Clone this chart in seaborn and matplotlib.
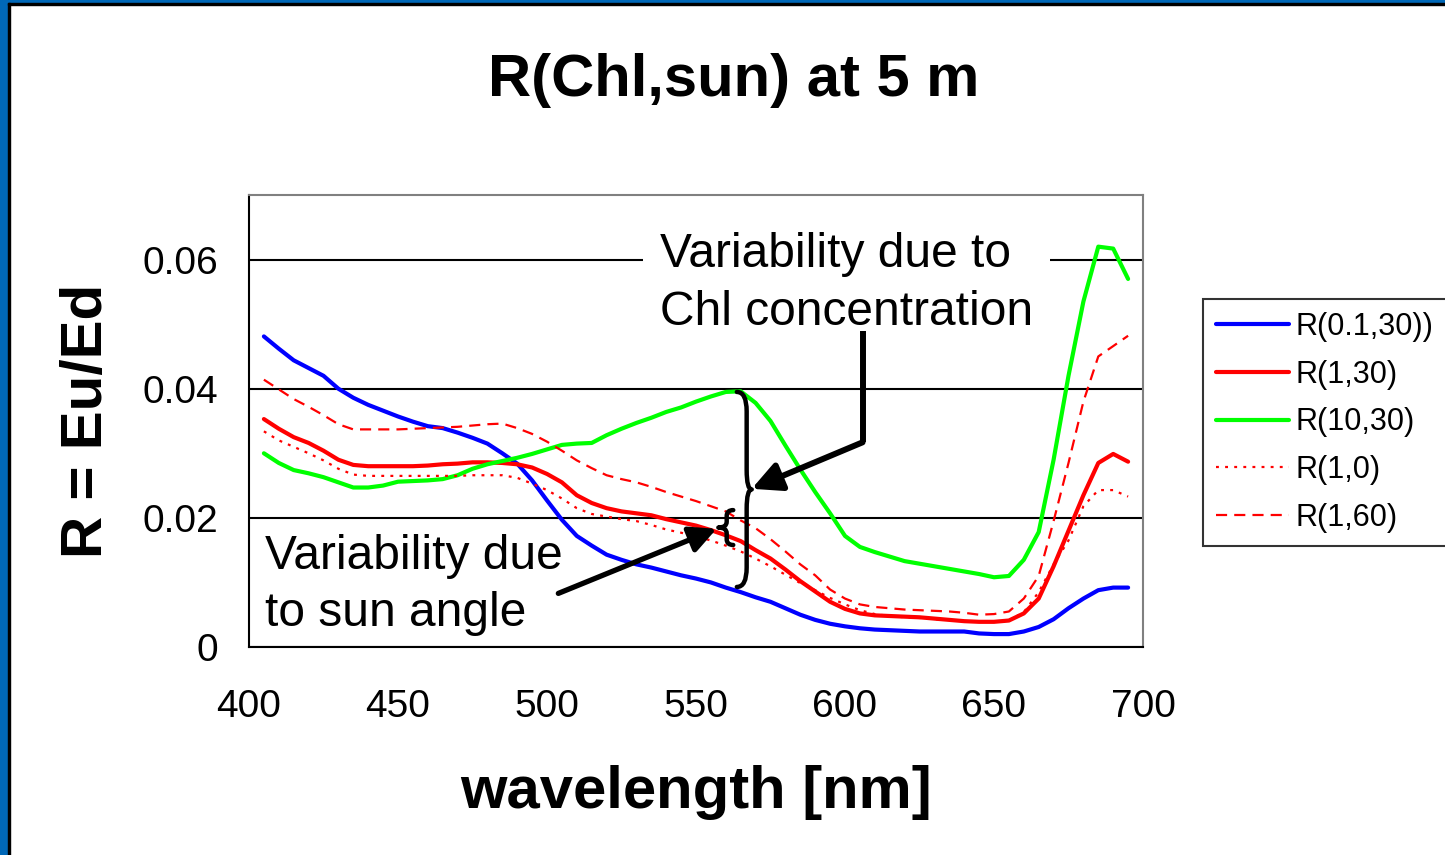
import numpy as np
import pandas as pd
import seaborn as sns
import matplotlib.pyplot as plt
from matplotlib.path import Path
from matplotlib.patches import PathPatch, Rectangle

# wavelengths, nm
wavelength = list(range(405, 700, 5))

r_01_30 = [0.0481, 0.0462, 0.0444, 0.0432, 0.0420, 0.0400, 0.0386, 0.0375, 0.0366, 0.0357,
           0.0349, 0.0342, 0.0339, 0.0332, 0.0324, 0.0315, 0.0300, 0.0284, 0.0258, 0.0227,
           0.0197, 0.0172, 0.0157, 0.0143, 0.0135, 0.0128, 0.0123, 0.0117, 0.0111, 0.0106,
           0.0100, 0.0092, 0.0085, 0.0077, 0.0070, 0.0060, 0.0050, 0.0042, 0.0036, 0.0032,
           0.0029, 0.0027, 0.0026, 0.0025, 0.0024, 0.0024, 0.0024, 0.0024, 0.0021, 0.0020,
           0.0020, 0.0024, 0.0031, 0.0043, 0.0060, 0.0075, 0.0088, 0.0092, 0.0092]
r_1_30 = [0.0353, 0.0338, 0.0325, 0.0316, 0.0304, 0.0290, 0.0282, 0.0280, 0.0280, 0.0280,
          0.0280, 0.0281, 0.0283, 0.0284, 0.0286, 0.0286, 0.0285, 0.0283, 0.0278, 0.0268,
          0.0255, 0.0235, 0.0223, 0.0215, 0.0210, 0.0207, 0.0204, 0.0198, 0.0193, 0.0188,
          0.0181, 0.0173, 0.0164, 0.0150, 0.0137, 0.0120, 0.0102, 0.0086, 0.0070, 0.0059,
          0.0052, 0.0049, 0.0048, 0.0047, 0.0046, 0.0044, 0.0042, 0.0040, 0.0039, 0.0039,
          0.0041, 0.0052, 0.0075, 0.0125, 0.0180, 0.0235, 0.0285, 0.0299, 0.0287]
r_10_30 = [0.0300, 0.0285, 0.0274, 0.0269, 0.0263, 0.0255, 0.0247, 0.0247, 0.0250, 0.0256,
           0.0257, 0.0258, 0.0260, 0.0266, 0.0276, 0.0283, 0.0288, 0.0293, 0.0299, 0.0306,
           0.0313, 0.0315, 0.0316, 0.0328, 0.0338, 0.0347, 0.0355, 0.0364, 0.0371, 0.0380,
           0.0388, 0.0395, 0.0396, 0.0378, 0.0350, 0.0312, 0.0275, 0.0240, 0.0207, 0.0172,
           0.0155, 0.0147, 0.0140, 0.0133, 0.0129, 0.0125, 0.0121, 0.0117, 0.0113, 0.0108,
           0.0110, 0.0135, 0.0178, 0.0290, 0.0420, 0.0535, 0.0620, 0.0617, 0.0570]
r_1_0 = [0.0334, 0.0320, 0.0310, 0.0300, 0.0289, 0.0276, 0.0267, 0.0265, 0.0265, 0.0265,
         0.0265, 0.0265, 0.0265, 0.0265, 0.0266, 0.0266, 0.0266, 0.0262, 0.0253, 0.0243,
         0.0230, 0.0215, 0.0206, 0.0202, 0.0198, 0.0195, 0.0189, 0.0182, 0.0177, 0.0171,
         0.0165, 0.0157, 0.0148, 0.0137, 0.0125, 0.0112, 0.0099, 0.0088, 0.0076, 0.0066,
         0.0057, 0.0051, 0.0048, 0.0046, 0.0045, 0.0043, 0.0042, 0.0040, 0.0039, 0.0039,
         0.0041, 0.0054, 0.0085, 0.0128, 0.0165, 0.0218, 0.0243, 0.0243, 0.0233]
r_1_60 = [0.0414, 0.0399, 0.0384, 0.0372, 0.0359, 0.0345, 0.0337, 0.0337, 0.0337, 0.0337,
          0.0338, 0.0339, 0.0340, 0.0341, 0.0343, 0.0345, 0.0346, 0.0339, 0.0330, 0.0318,
          0.0304, 0.0289, 0.0277, 0.0266, 0.0260, 0.0255, 0.0248, 0.0240, 0.0233, 0.0226,
          0.0218, 0.0210, 0.0196, 0.0184, 0.0167, 0.0148, 0.0128, 0.0111, 0.0089, 0.0075,
          0.0066, 0.0062, 0.0060, 0.0058, 0.0057, 0.0056, 0.0055, 0.0053, 0.0050, 0.0051,
          0.0055, 0.0075, 0.0110, 0.0195, 0.0285, 0.0380, 0.0450, 0.0466, 0.0482]

labels = ["R(0.1,30))", "R(1,30)", "R(10,30)", "R(1,0)", "R(1,60)"]
series = [r_01_30, r_1_30, r_10_30, r_1_0, r_1_60]
colors = {"R(0.1,30))": "#0000FF", "R(1,30)": "#FF0000", "R(10,30)": "#00FF00",
          "R(1,0)": "#FF0000", "R(1,60)": "#FF0000"}
widths = {"R(0.1,30))": 3.0, "R(1,30)": 3.0, "R(10,30)": 3.0, "R(1,0)": 1.6, "R(1,60)": 1.6}
dashes = {"R(0.1,30))": "", "R(1,30)": "", "R(10,30)": "", "R(1,0)": (1.3, 2.8), "R(1,60)": (5.0, 3.2)}

rows = []
for name, vals in zip(labels, series):
    for w, v in zip(wavelength, vals):
        rows.append([w, v, name])
df = pd.DataFrame.from_records(rows, columns=["wavelength", "R", "curve"])


def brace(ax, x_end, x_spine, x_cusp, y_top, y_bot, d, lw):
    # curly brace drawn with quadratic beziers, in data coords
    y_mid = (y_top + y_bot) / 2
    verts = [(x_end, y_top), (x_spine, y_top), (x_spine, y_top - d),
             (x_spine, y_mid + d), (x_spine, y_mid), (x_cusp, y_mid),
             (x_spine, y_mid), (x_spine, y_mid - d),
             (x_spine, y_bot + d), (x_spine, y_bot), (x_end, y_bot)]
    codes = [Path.MOVETO, Path.CURVE3, Path.CURVE3, Path.LINETO, Path.CURVE3, Path.CURVE3,
             Path.CURVE3, Path.CURVE3, Path.LINETO, Path.CURVE3, Path.CURVE3]
    ax.add_patch(PathPatch(Path(verts, codes), fill=False, lw=lw, color="black",
                           capstyle="round", joinstyle="round", zorder=5))


sns.set_style("white")
plt.rcParams["font.family"] = ["Liberation Sans", "DejaVu Sans"]
plt.rcParams["text.color"] = "black"
plt.rcParams["axes.labelcolor"] = "black"
plt.rcParams["xtick.color"] = "black"
plt.rcParams["ytick.color"] = "black"

fig = plt.figure(figsize=(14.45, 8.55), dpi=100)
ax = fig.add_axes([249 / 1445, 1 - 647 / 855, 894 / 1445, 452 / 855])

sns.lineplot(data=df, x="wavelength", y="R", hue="curve", style="curve", size="curve",
             palette=colors, dashes=dashes, sizes=widths, hue_order=labels,
             style_order=labels, size_order=labels, estimator=None, sort=False,
             legend=False, ax=ax, zorder=3)

handles = ax.get_lines()[:5]
leg = ax.legend(handles, labels, loc="upper left", bbox_to_anchor=(1203 / 1445, 1 - 299 / 855),
                bbox_transform=fig.transFigure, fontsize=22, frameon=True, fancybox=False,
                edgecolor="black", handlelength=2.4, handletextpad=0.22, borderpad=0.42,
                labelspacing=0.58, borderaxespad=0)
leg.get_frame().set_linewidth(1.5)

ax.set_xlim(400, 700)
ax.set_ylim(0, 0.07)
ax.set_xticks([400, 450, 500, 550, 600, 650, 700])
ax.set_yticks([0, 0.02, 0.04, 0.06])
ax.set_yticklabels(["0", "0.02", "0.04", "0.06"])
ax.tick_params(axis="both", direction="out", length=9, width=1.5, labelsize=28, color="black")
ax.tick_params(axis="y", pad=13)
ax.tick_params(axis="x", pad=21)
ax.yaxis.grid(True, color="black", lw=1.5, zorder=0)
ax.set_axisbelow(True)
for side in ["left", "bottom"]:
    ax.spines[side].set_color("black")
    ax.spines[side].set_linewidth(1.5)
for side in ["top", "right"]:
    ax.spines[side].set_color("#808080")
    ax.spines[side].set_linewidth(1.5)

ax.set_xlabel("wavelength [nm]", fontsize=43, fontweight="bold", labelpad=29)
ax.set_ylabel("R = Eu/Ed", fontsize=42, fontweight="bold", labelpad=20.5)
fig.suptitle("R(Chl,sun) at 5 m", x=0.508, y=1 - 80 / 855, va="center",
             fontsize=43, fontweight="bold")

# annotation texts
ax.text(537.9, 0.0642, "Variability due to\nChl concentration", fontsize=34.5, va="top",
        ha="left", linespacing=1.35, zorder=6,
        bbox=dict(facecolor="white", edgecolor="none", pad=12))
ax.text(405.4, 0.0175, "Variability due\nto sun angle", fontsize=34.5, va="top",
        ha="left", linespacing=1.35, zorder=6)

# braces
brace(ax, 563.7, 567.0, 568.7, 0.0395, 0.0093, 0.003, 3.2)
brace(ax, 562.5, 560.3, 557.5, 0.0212, 0.0158, 0.0009, 3.2)

# arrows
ax.plot([605.9, 605.9], [0.0490, 0.0317], color="black", lw=4.3, solid_capstyle="butt", zorder=6)
ax.annotate("", xy=(568.7, 0.0245), xytext=(605.9, 0.0317),
            arrowprops=dict(arrowstyle="-|>,head_length=0.8,head_width=0.4", lw=4.3,
                            color="black", mutation_scale=22, shrinkA=0, shrinkB=0), zorder=6)
ax.annotate("", xy=(556.9, 0.0183), xytext=(503.8, 0.0083),
            arrowprops=dict(arrowstyle="-|>,head_length=0.8,head_width=0.4", lw=3.8,
                            color="black", mutation_scale=20, shrinkA=0, shrinkB=0), zorder=6)

# slide border
fig.patches.append(Rectangle((0, 0), 8 / 1445, 1, transform=fig.transFigure,
                             color="#0068B8", zorder=0))
fig.patches.append(Rectangle((0, 1 - 3 / 855), 1, 3 / 855, transform=fig.transFigure,
                             color="#0068B8", zorder=0))
fig.patches.append(Rectangle((8 / 1445, 0), 2 / 1445, 1 - 3 / 855, transform=fig.transFigure,
                             color="black", zorder=0))
fig.patches.append(Rectangle((8 / 1445, 1 - 5 / 855), 1, 2 / 855, transform=fig.transFigure,
                             color="black", zorder=0))

fig.savefig("out.png", dpi=100)
